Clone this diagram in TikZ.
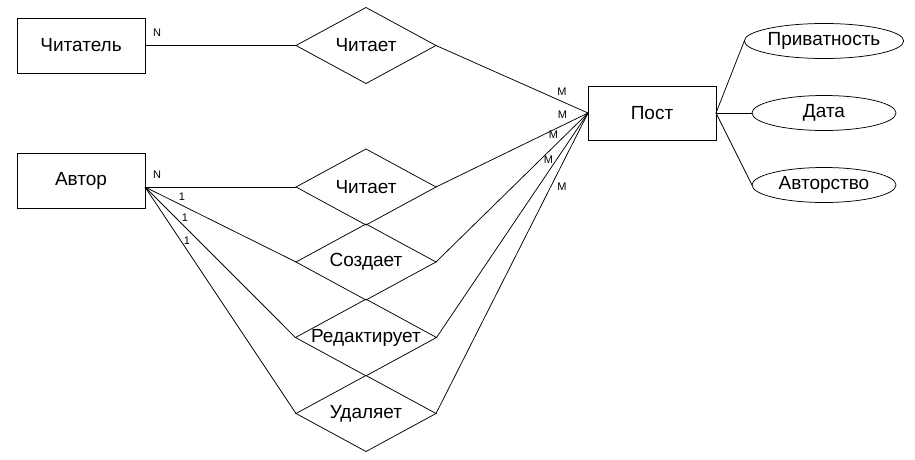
\documentclass[tikz,border=0pt]{standalone}
\usepackage{fontspec}
\setmainfont{Liberation Sans}
\usetikzlibrary{shapes.geometric}
\begin{document}
\begin{tikzpicture}[x=1pt,y=-1pt,
  ent/.style={draw, line width=0.75pt, minimum width=128pt, minimum height=55pt, inner sep=0pt, outer sep=0pt, font=\fontsize{19}{22}\selectfont},
  rel/.style={draw, line width=0.75pt, diamond, aspect=1.84, minimum width=140pt, minimum height=76pt, inner sep=0pt, outer sep=0pt, font=\fontsize{19}{22}\selectfont},
  attr/.style={draw, line width=0.75pt, ellipse, minimum width=144pt, minimum height=35pt, inner sep=0pt, outer sep=0pt, font=\fontsize{19}{22}\selectfont},
  card/.style={font=\fontsize{11}{13}\selectfont, inner sep=0pt},
  conn/.style={line width=0.75pt}]
\useasboundingbox (0,0) rectangle (915,460);
\fill[white] (0,0) rectangle (915,460);
% entities
\node[ent] (reader) at (81,45.5) {Читатель};
\node[ent] (author) at (81,180.5) {Автор};
\node[ent, minimum height=54pt] (post) at (652,113) {Пост};
% relations
\node[rel] (r1) at (366,45.5) {Читает};
\node[rel] (r2) at (366,187) {Читает};
\node[rel] (r3) at (366,262) {Создает};
\node[rel] (r4) at (366,337.5) {Редактирует};
\node[rel] (r5) at (366,413.5) {Удаляет};
% attributes
\node[attr] (a1) at (824,41) {Приватность};
\node[attr] (a2) at (824,113) {Дата};
\node[attr] (a3) at (824,185) {Авторство};
\coordinate (ap) at (145,187);
% connectors
\draw[conn] (reader.east) -- (r1.west);
\draw[conn] (r1.east) -- (post.west);
\draw[conn] (ap) -- (r2.west);
\draw[conn] (ap) -- (r3.west);
\draw[conn] (ap) -- (r4.west);
\draw[conn] (ap) -- (r5.west);
\draw[conn] (r2.east) -- (post.west);
\draw[conn] (r3.east) -- (post.west);
\draw[conn] (r4.east) -- (post.west);
\draw[conn] (r5.east) -- (post.west);
\draw[conn] (post.east) -- (a1.west);
\draw[conn] (post.east) -- (a2.west);
\draw[conn] (post.east) -- (a3.west);
% cardinalities
\node[card] (n1) at (157,32.5) {N};
\node[card] (n2) at (157,175) {N};
\node[card] (o1) at (182,197) {1};
\node[card] (o2) at (185,218) {1};
\node[card] (o3) at (187,241) {1};
\node[card] (m1) at (562,91.5) {M};
\node[card] (m2) at (562.5,114.5) {M};
\node[card] (m3) at (553.5,135) {M};
\node[card] (m4) at (548.5,160) {M};
\node[card] (m5) at (562,187) {M};
\end{tikzpicture}
\end{document}
